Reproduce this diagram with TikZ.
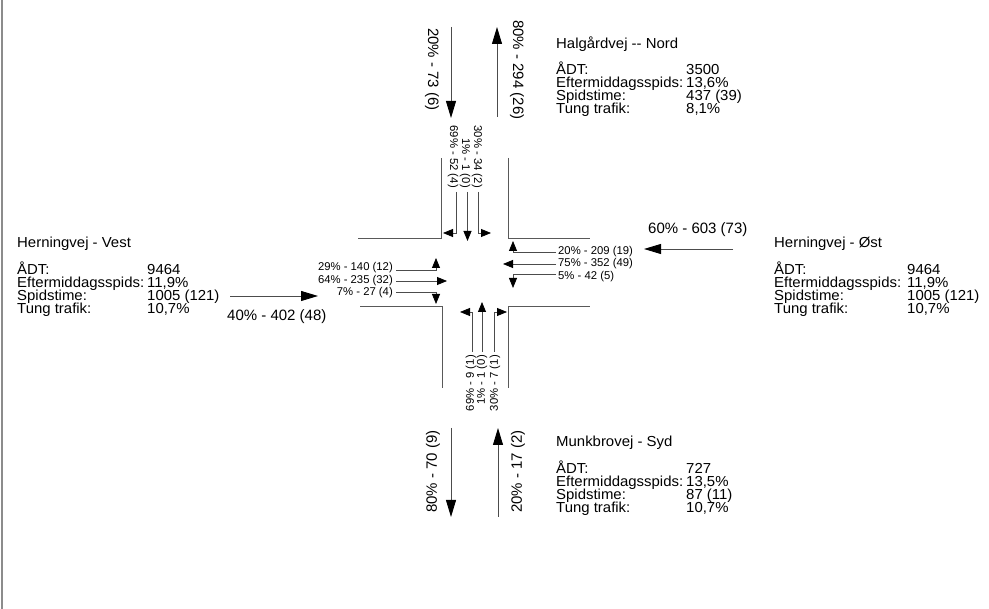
\documentclass[tikz,border=0pt]{standalone}
\usepackage{fontspec}
\setmainfont{Liberation Sans}
\newfontfamily\infofont[FakeStretch=1.03]{Liberation Sans}
\usetikzlibrary{arrows.meta}
\tikzset{
  road/.style={draw=black!65, line width=0.9pt},
  lane/.style={draw=black!70, line width=0.8pt, -{Triangle[length=10pt,width=8pt,black]}},
  bigarrow/.style={draw=black!70, line width=0.9pt, -{Triangle[length=17pt,width=10pt,black]}},
  smalllbl/.style={font=\fontsize{11.3}{13}\selectfont, inner sep=0pt},
  biglbl/.style={font=\fontsize{15}{18}\selectfont, inner sep=0pt},
  info/.style={font=\infofont\fontsize{14.5}{16}\selectfont, inner sep=0pt, anchor=base west},
}
\def\voff{130}
\newcommand\infoblk[8]{%
  \node[info] (#1t) at (#2,#3) {#4};
  \node[info] (#1a) at (#2,#3+26.5) {ÅDT:};
  \node[info] (#1b) at (#2,#3+39.5) {Eftermiddagsspids:};
  \node[info] (#1c) at (#2,#3+52.5) {Spidstime:};
  \node[info] (#1d) at (#2,#3+65.5) {Tung trafik:};
  \node[info] (#1av) at (#2+\voff,#3+26.5) {#5};
  \node[info] (#1bv) at (#2+\voff,#3+39.5) {#6};
  \node[info] (#1cv) at (#2+\voff,#3+52.5) {#7};
  \node[info] (#1dv) at (#2+\voff,#3+65.5) {#8};
}
\begin{document}
\begin{tikzpicture}[x=1pt,y=-1pt]
\useasboundingbox (0,0) rectangle (989,609);
% left border
\draw[draw=black!45, line width=1.5pt] (2,0) -- (2,609);

% road edges
\draw[road] (358,238) -- (441,238) -- (441,158);
\draw[road] (508,158) -- (508,238) -- (590,238);
\draw[road] (360,306) -- (442,306) -- (442,388);
\draw[road] (508,388) -- (508,306) -- (590,306);

% big approach arrows
\draw[bigarrow] (451,27) -- (451,118);
\draw[bigarrow] (497,117) -- (497,27);
\draw[bigarrow] (451,428) -- (451,517);
\draw[bigarrow] (498,517) -- (498,428);
\draw[bigarrow] (230,296) -- (318,296);
\draw[bigarrow] (733,249) -- (644,249);

\node[biglbl, rotate=-90, anchor=west] (nin) at (432,28) {20\% - 73 (6)};
\node[biglbl, rotate=-90, anchor=west] (nout) at (517,20) {80\% - 294 (26)};
\node[biglbl, rotate=90, anchor=west] (sout) at (433,513) {80\% - 70 (9)};
\node[biglbl, rotate=90, anchor=west] (sin) at (518,513) {20\% - 17 (2)};
\node[biglbl, anchor=west] (win) at (227,317) {40\% - 402 (48)};
\node[biglbl, anchor=west] (ein) at (648,230) {60\% - 603 (73)};

% north lanes
\node[smalllbl, rotate=-90, anchor=east] (n1) at (453,188) {69\% - 52 (4)};
\node[smalllbl, rotate=-90, anchor=east] (n2) at (465,188) {1\% - 1 (0)};
\node[smalllbl, rotate=-90, anchor=east] (n3) at (477,188) {30\% - 34 (2)};
\draw[lane] (456,192) |- (443,233);
\draw[lane] (467.5,192) -- (467.5,241);
\draw[lane] (478,192) |- (491,233);

% south lanes
\node[smalllbl, rotate=90, anchor=east] (s1) at (471,355) {69\% - 9 (1)};
\node[smalllbl, rotate=90, anchor=east] (s2) at (482,355) {1\% - 1 (0)};
\node[smalllbl, rotate=90, anchor=east] (s3) at (495,355) {30\% - 7 (1)};
\draw[lane] (472,352) |- (460,312);
\draw[lane] (482,352) -- (482,302);
\draw[lane] (494,352) |- (507,312);

% west lanes
\node[smalllbl, anchor=east] (w1) at (393,268) {29\% - 140 (12)};
\node[smalllbl, anchor=east] (w2) at (393,281) {64\% - 235 (32)};
\node[smalllbl, anchor=east] (w3) at (393,293) {7\% - 27 (4)};
\draw[lane] (396,270) -| (436,258);
\draw[lane] (396,281) -- (447,281);
\draw[lane] (396,292) -| (436,304);

% east lanes
\node[smalllbl, anchor=west] (e1) at (558,252) {20\% - 209 (19)};
\node[smalllbl, anchor=west] (e2) at (558,264) {75\% - 352 (49)};
\node[smalllbl, anchor=west] (e3) at (558,277) {5\% - 42 (5)};
\draw[lane] (556,252) -| (513,241);
\draw[lane] (556,264) -- (503,264);
\draw[lane] (556,274) -| (513,288);

% info blocks
\infoblk{nb}{556}{48.5}{Halgårdvej -{}- Nord}{3500}{13,6\%}{437 (39)}{8,1\%}
\infoblk{wb}{17}{248}{Herningvej - Vest}{9464}{11,9\%}{1005 (121)}{10,7\%}
\infoblk{sb}{556}{447}{Munkbrovej - Syd}{727}{13,5\%}{87 (11)}{10,7\%}
\def\voff{133}
\infoblk{eb}{774}{248}{Herningvej - Øst}{9464}{11,9\%}{1005 (121)}{10,7\%}
\end{tikzpicture}
\end{document}
